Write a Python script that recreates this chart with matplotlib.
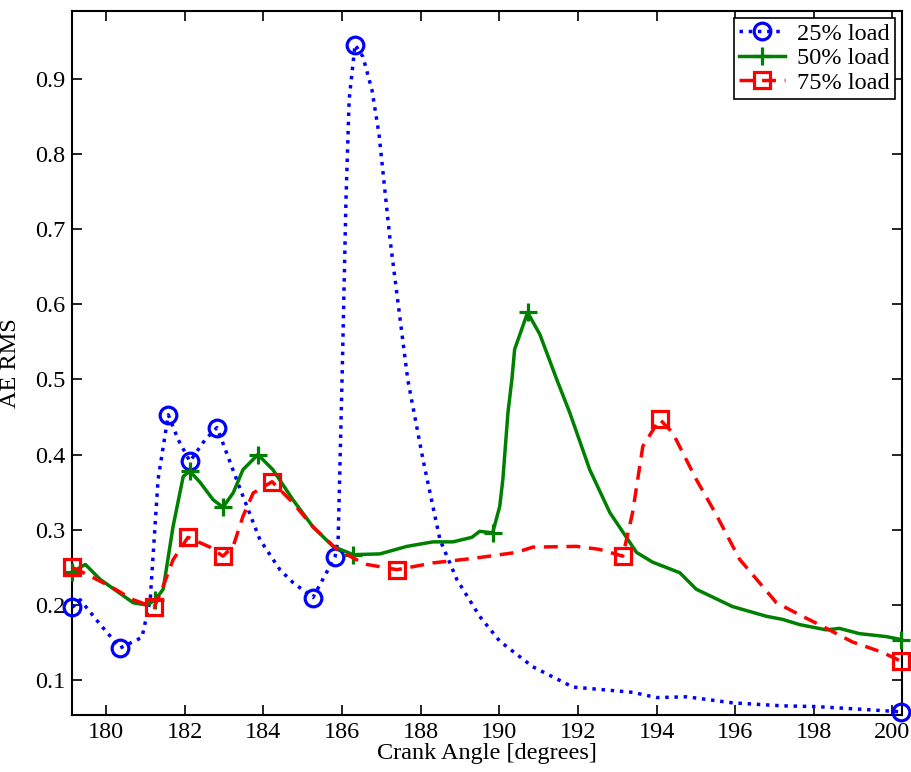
import numpy as np
import matplotlib.pyplot as plt

plt.rcParams['font.family'] = ['Liberation Serif', 'DejaVu Serif']
plt.rcParams['mathtext.fontset'] = 'stix'

# 25% load
x_25 = [179.14, 179.34, 179.85, 180.36, 180.91, 181.12, 181.32, 181.58, 181.83,
        182.13, 182.52, 182.82, 183.41, 183.91, 184.42, 184.75, 185.26, 185.82,
        185.90, 186.00, 186.10, 186.18, 186.33, 186.53, 186.76, 186.94, 187.22,
        187.67, 188.06, 188.49, 188.92, 189.50, 190.01, 190.85, 191.87, 193.39,
        194.00, 194.77, 195.93, 197.20, 198.07, 199.34, 200.23]
y_25 = [0.197, 0.207, 0.174, 0.143, 0.157, 0.207, 0.367, 0.453, 0.420,
        0.391, 0.420, 0.436, 0.354, 0.287, 0.247, 0.230, 0.210, 0.264,
        0.287, 0.500, 0.739, 0.872, 0.945, 0.929, 0.885, 0.826, 0.686,
        0.500, 0.393, 0.287, 0.234, 0.185, 0.152, 0.118, 0.091, 0.084,
        0.077, 0.078, 0.070, 0.066, 0.065, 0.061, 0.058]
mk_25 = [0, 3, 7, 9, 11, 16, 17, 22, 42]

# 50% load
x_50 = [179.14, 179.47, 179.85, 180.69, 181.04, 181.25, 181.45, 181.70, 181.96,
        182.13, 182.39, 182.72, 182.97, 183.23, 183.48, 183.86, 184.24, 184.75,
        185.26, 185.77, 186.28, 186.96, 187.65, 188.31, 188.82, 189.30, 189.50,
        189.83, 190.01, 190.09, 190.22, 190.32, 190.39, 190.72, 191.03, 191.46,
        191.79, 192.30, 192.81, 193.49, 193.90, 194.59, 195.01, 195.93, 196.80,
        197.20, 197.64, 198.32, 198.65, 199.16, 199.85, 200.23]
y_50 = [0.244, 0.254, 0.234, 0.203, 0.200, 0.207, 0.221, 0.304, 0.371,
        0.378, 0.363, 0.340, 0.330, 0.349, 0.380, 0.400, 0.380, 0.340,
        0.304, 0.278, 0.267, 0.268, 0.278, 0.284, 0.284, 0.290, 0.298,
        0.296, 0.331, 0.367, 0.456, 0.500, 0.540, 0.589, 0.560, 0.500,
        0.456, 0.380, 0.323, 0.270, 0.257, 0.243, 0.221, 0.198, 0.185,
        0.181, 0.174, 0.167, 0.169, 0.162, 0.158, 0.154]
mk_50 = [0, 5, 9, 12, 15, 20, 27, 33, 51]

# 75% load
x_75 = [179.14, 179.42, 180.10, 180.69, 181.22, 181.45, 181.70, 182.08, 182.64,
        182.97, 183.23, 183.48, 183.74, 184.22, 184.75, 185.26, 185.87, 186.38,
        186.63, 187.40, 188.31, 189.33, 190.44, 190.85, 191.97, 192.55, 193.14,
        193.39, 193.65, 194.08, 194.41, 195.01, 195.52, 196.11, 197.05, 197.64,
        198.32, 198.98, 199.75, 200.23]
y_75 = [0.250, 0.243, 0.225, 0.207, 0.197, 0.225, 0.260, 0.290, 0.277,
        0.265, 0.278, 0.318, 0.349, 0.364, 0.336, 0.304, 0.274, 0.260,
        0.254, 0.247, 0.256, 0.262, 0.270, 0.277, 0.278, 0.274, 0.265,
        0.323, 0.411, 0.447, 0.429, 0.367, 0.320, 0.261, 0.203, 0.187,
        0.169, 0.151, 0.137, 0.125]
mk_75 = [0, 4, 7, 9, 13, 19, 26, 29, 39]

xticks = [180, 182, 184, 186, 188, 190, 192, 194, 196, 198, 200]
yticks = [0.1, 0.2, 0.3, 0.4, 0.5, 0.6, 0.7, 0.8, 0.9]

fig = plt.figure(figsize=(9.11, 7.72), dpi=100)
ax = fig.add_axes([0.079, 0.074, 0.911, 0.912])

ax.plot(x_25, y_25, ':', color='#0000ff', lw=2.5, marker='o', ms=12,
        mfc='none', mec='#0000ff', mew=2.3, markevery=mk_25, label='25% load',
        clip_on=False, zorder=3)
ax.plot(x_50, y_50, '-', color='#008000', lw=2.5, marker='+', ms=13,
        mec='#008000', mew=2.3, markevery=mk_50, label='50% load',
        clip_on=False, zorder=3)
ax.plot(x_75, y_75, '--', color='#ff0000', lw=2.5, marker='s', ms=11,
        mfc='none', mec='#ff0000', mew=2.3, markevery=mk_75, label='75% load',
        dashes=(4, 2.5), clip_on=False, zorder=3)

ax.set_xlim(179.13, 200.24)
ax.set_ylim(0.054, 0.99)
ax.set_xticks(xticks)
ax.set_yticks(yticks)
ax.set_yticklabels([f"{v:.1f}" for v in yticks])
ax.tick_params(direction='in', length=7, width=1.2, top=True, right=True,
               labelsize=17.5, pad=5)
for s in ax.spines.values():
    s.set_linewidth(1.5)

ax.set_xlabel("Crank Angle [degrees]", fontsize=17.5, labelpad=0)
ax.set_ylabel("AE RMS", fontsize=17.5, labelpad=10)

leg = ax.legend(loc='upper right', fontsize=17.5, handlelength=1.9,
                handletextpad=0.5, borderpad=0.2, labelspacing=0.1,
                fancybox=False, framealpha=1, edgecolor='black',
                borderaxespad=0.3)
leg.get_frame().set_linewidth(1.2)

plt.savefig('out.png', dpi=100)
